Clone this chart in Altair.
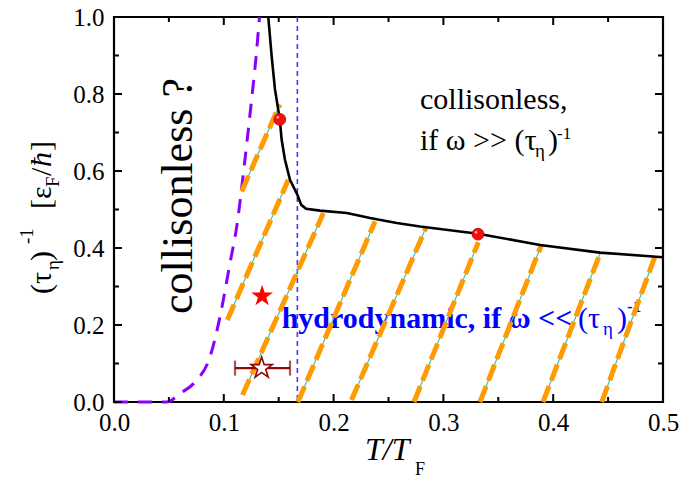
import altair as alt
import pandas as pd

# ---------------- data ----------------
x_major = [0.0, 0.1, 0.2, 0.3, 0.4, 0.5]
x_minor = [0.05, 0.15, 0.25, 0.35, 0.45]
y_major = [0.0, 0.2, 0.4, 0.6, 0.8, 1.0]
y_minor = [0.1, 0.3, 0.5, 0.7, 0.9]

black_T = [0.1405, 0.1436, 0.1466, 0.151, 0.1527, 0.1557, 0.1603, 0.1672, 0.1705,
           0.1750, 0.1876, 0.212, 0.2332, 0.2575, 0.2787, 0.3315, 0.388, 0.4426, 0.5]
black_y = [1.0, 0.898, 0.812, 0.734, 0.681, 0.629, 0.577, 0.537, 0.512,
           0.502, 0.497, 0.491, 0.478, 0.465, 0.456, 0.437, 0.408, 0.388, 0.376]

purple_T = [0.0, 0.048, 0.0601, 0.0738, 0.0874, 0.0965, 0.1056, 0.1120, 0.1184, 0.1248, 0.1293, 0.1325]
purple_y = [0.0, 0.0, 0.022, 0.052, 0.117, 0.221, 0.360, 0.460, 0.608, 0.772, 0.894, 1.0]

orange_T0 = [0.1163, 0.1032, 0.1170, 0.1675, 0.2163, 0.2732, 0.3333, 0.3907, 0.4442]
orange_y0 = [0.547, 0.213, 0.018, 0.0, 0.005, 0.0, 0.0, 0.0, 0.0]
orange_T1 = [0.1510, 0.1587, 0.1906, 0.2377, 0.2840, 0.3318, 0.3895, 0.4426, 0.4927]
orange_y1 = [0.773, 0.577, 0.490, 0.469, 0.452, 0.415, 0.410, 0.385, 0.378]

vline_T = [0.167]

dots_T = [0.151, 0.3315]
dots_y = [0.734, 0.436]

star_filled_T = [0.1349]
star_filled_y = [0.275]
star_open_T = [0.1345]
star_open_y = [0.088]
err_lo = [0.1102]
err_hi = [0.1603]

# ---------------- helpers ----------------
W, H = 549, 385
FONT = "Liberation Serif"
STAR = ("M0,-1L0.2245,-0.309L0.951,-0.309L0.363,0.118L0.588,0.809L0,0.382"
        "L-0.588,0.809L-0.363,0.118L-0.951,-0.309L-0.2245,-0.309Z")
xs = alt.Scale(domain=[0, 0.5], nice=False, zero=False)
ys = alt.Scale(domain=[0, 1.0], nice=False, zero=False)
xaxis = alt.Axis(values=x_major, format=".1f", ticks=False, domain=False, grid=False,
                 labelFont=FONT, labelFontSize=25, labelPadding=8, labelFlush=False,
                 labelOverlap=False, labelColor="black", title=None, orient="bottom")
yaxis = alt.Axis(values=y_major, format=".1f", ticks=False, domain=False, grid=False,
                 labelFont=FONT, labelFontSize=25, labelPadding=10, labelFlush=False,
                 labelOverlap=False, labelColor="black", title=None, orient="left")


def X(f):
    return alt.X(f, type="quantitative", scale=xs, axis=xaxis)


def Y(f):
    return alt.Y(f, type="quantitative", scale=ys, axis=yaxis)


one = pd.DataFrame({"k": [0]})


def ptxt(text, px, py, size, angle=0, style="normal", weight="normal", color="black"):
    kw = dict(text=text, font=FONT, fontSize=size, fontStyle=style, fontWeight=weight,
              color=color, align="left", baseline="alphabetic")
    if angle:
        kw["angle"] = angle
    return alt.Chart(one).mark_text(**kw).encode(x=alt.value(px), y=alt.value(py))


def dtxt(text, T, y, size, angle=0, style="normal", weight="normal", color="black", align="left"):
    kw = dict(text=text, font=FONT, fontSize=size, fontStyle=style, fontWeight=weight,
              color=color, align=align, baseline="alphabetic")
    if angle:
        kw["angle"] = angle
    return alt.Chart(pd.DataFrame({"T": [T], "y": [y]})).mark_text(**kw).encode(x=X("T"), y=Y("y"))


# ---------------- tables ----------------
black_df = pd.DataFrame({"T": black_T, "y": black_y})
purple_df = pd.DataFrame({"T": purple_T, "y": purple_y})
rows = []
for i in range(len(orange_T0)):
    rows.append({"id": i, "T": orange_T0[i], "y": orange_y0[i]})
    rows.append({"id": i, "T": orange_T1[i], "y": orange_y1[i]})
orange_df = pd.DataFrame(rows)

layers = []

# annotations (drawn beneath the lines)
layers.append(dtxt("collisonless ?", 0.0708, 0.535, 44, angle=270, align="center"))
layers.append(dtxt("collisonless,", 0.2787, 0.7615, 30))
layers.append(dtxt("if ω >> (τ", 0.2787, 0.6548, 30))
layers.append(dtxt("η", 0.3835, 0.6366, 19))
layers.append(dtxt(")", 0.3953, 0.6548, 30))
layers.append(dtxt("-1", 0.4035, 0.6834, 17))

blue = "#0000ff"
layers.append(dtxt("hydrodynamic, if ω <<", 0.1527, 0.191, 30, weight="bold", color=blue))
layers.append(dtxt("(τ", 0.4226, 0.191, 30, color=blue))
layers.append(dtxt("η", 0.4454, 0.1735, 19, color=blue))
layers.append(dtxt(")", 0.4581, 0.191, 30, color=blue))
layers.append(dtxt("-1", 0.4672, 0.2333, 17, weight="bold", color=blue))

# purple dashed curve
layers.append(alt.Chart(purple_df).mark_line(color="#8a00ff", strokeWidth=3, strokeDash=[14, 10],
                                              interpolate="monotone")
              .encode(x=X("T"), y=Y("y")))
# blue dotted vertical
layers.append(alt.Chart(pd.DataFrame({"T": vline_T})).mark_rule(color="#3a3aff", strokeWidth=1.6,
                                                                 strokeDash=[5, 4])
              .encode(x=X("T")))
# cyan thin lines under orange dashes
layers.append(alt.Chart(orange_df).mark_line(color="#2ec8c0", strokeWidth=1.2)
              .encode(x=X("T"), y=Y("y"), detail="id:N"))
layers.append(alt.Chart(orange_df).mark_line(color="#ff9a00", strokeWidth=5, strokeDash=[17, 6])
              .encode(x=X("T"), y=Y("y"), detail="id:N"))
# black curve
layers.append(alt.Chart(black_df).mark_line(color="black", strokeWidth=2.6, interpolate="linear")
              .encode(x=X("T"), y=Y("y")))
# red spheres
dots_df = pd.DataFrame({"T": dots_T, "y": dots_y})
layers.append(alt.Chart(dots_df)
              .mark_point(shape="circle", filled=True, size=140, color="#f01010", opacity=1,
                          stroke="#b00000", strokeWidth=0.8)
              .encode(x=X("T"), y=Y("y")))
layers.append(alt.Chart(dots_df)
              .mark_text(text="●", fontSize=6, color="#ffb0b0", dx=-2, dy=-2)
              .encode(x=X("T"), y=Y("y")))
# filled red star
layers.append(alt.Chart(pd.DataFrame({"T": star_filled_T, "y": star_filled_y}))
              .mark_point(shape=STAR, filled=True, color="#ff0000", size=520, opacity=1)
              .encode(x=X("T"), y=Y("y")))
# error bar + open star
err_df = pd.DataFrame({"lo": err_lo, "hi": err_hi, "y": star_open_y})
layers.append(alt.Chart(err_df).mark_rule(color="#8b0a0a", strokeWidth=2.2)
              .encode(x=X("lo"), x2="hi", y=Y("y")))
cap_df = pd.DataFrame({"T": err_lo + err_hi, "y": star_open_y * 2})
layers.append(alt.Chart(cap_df).mark_tick(color="#8b0a0a", orient="vertical", size=15, thickness=2.2)
              .encode(x=X("T"), y=Y("y")))
layers.append(alt.Chart(pd.DataFrame({"T": star_open_T, "y": star_open_y}))
              .mark_point(shape=STAR, filled=True, fill="white", fillOpacity=1, stroke="#8b0a0a",
                          strokeWidth=1.6, size=500, opacity=1)
              .encode(x=X("T"), y=Y("y")))

# tick marks (inward) on all four sides, lengths converted to data units
for vals, ln in ((x_major, 8), (x_minor, 5)):
    d = pd.DataFrame({"T": vals})
    f = ln / H
    layers.append(alt.Chart(d).transform_calculate(a="0", b=str(f))
                  .mark_rule(color="black", strokeWidth=2)
                  .encode(x=X("T"), y=Y("a:Q"), y2="b:Q"))
    layers.append(alt.Chart(d).transform_calculate(a="1", b=str(1 - f))
                  .mark_rule(color="black", strokeWidth=2)
                  .encode(x=X("T"), y=Y("a:Q"), y2="b:Q"))
for vals, ln in ((y_major, 8), (y_minor, 5)):
    d = pd.DataFrame({"y": vals})
    f = 0.5 * ln / W
    layers.append(alt.Chart(d).transform_calculate(a="0", b=str(f))
                  .mark_rule(color="black", strokeWidth=2)
                  .encode(y=Y("y"), x=X("a:Q"), x2="b:Q"))
    layers.append(alt.Chart(d).transform_calculate(a="0.5", b=str(0.5 - f))
                  .mark_rule(color="black", strokeWidth=2)
                  .encode(y=Y("y"), x=X("a:Q"), x2="b:Q"))

# axis titles (pixel positions relative to the plot area)
layers.append(ptxt("T/T", 251, 443, 32, style="italic"))
layers.append(ptxt("F", 301, 458, 18))

layers.append(ptxt("(τ", -63, 277, 30, angle=270))
layers.append(ptxt("η", -55, 253, 19, angle=270))
layers.append(ptxt(")", -63, 244, 30, angle=270))
layers.append(ptxt("-1", -81, 227, 19, angle=270))
layers.append(ptxt("[ε", -63, 192, 30, angle=270))
layers.append(ptxt("F", -55, 170, 19, angle=270))
layers.append(ptxt("/", -63, 159, 30, angle=270))
layers.append(ptxt("ħ", -63, 150, 30, angle=270, style="italic"))
layers.append(ptxt("]", -63, 134, 30, angle=270))

chart = (alt.layer(*layers)
         .properties(width=W, height=H, padding={"left": 114, "top": 17, "right": 28, "bottom": 76},
                     autosize=alt.AutoSizeParams(type="none"), background="white")
         .configure_view(stroke="black", strokeWidth=2.2))

chart.save("out.html", embed_options={"renderer": "svg", "actions": False})
